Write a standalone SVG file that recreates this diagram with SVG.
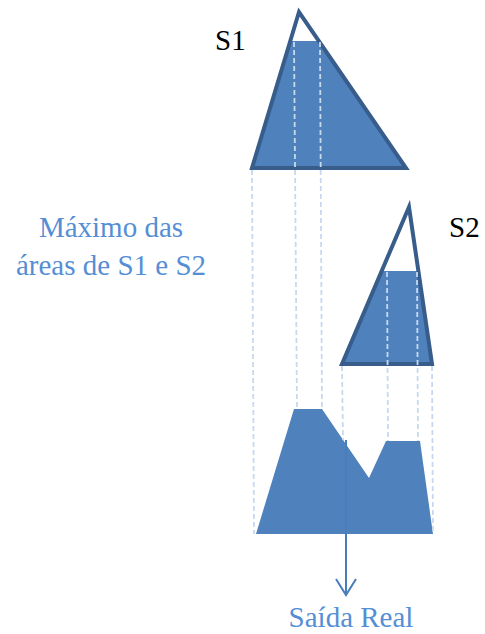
<svg xmlns="http://www.w3.org/2000/svg" width="485" height="634" viewBox="0 0 485 634">
<defs>
<style>
.fill{fill:#4F81BD;stroke:none}
.tri{fill:none;stroke:#385D8A;stroke-width:4;stroke-linejoin:miter}
.dash{stroke:#C6D9F1;stroke-width:1.8;stroke-dasharray:5 3;fill:none}
.lbl{font-family:'Times New Roman',Times,Tinos,'Liberation Serif','Noto Serif','DejaVu Serif',serif;font-size:29px}
.blue{fill:#558ED5}
.arrow{stroke:#4A7EBB;stroke-width:2;fill:none}
</style>
</defs>
<rect width="485" height="634" fill="#FFFFFF"/>
<g id="output">
<polygon class="fill" points="256,534 294,409 322,409 369,478 386,441 420,441 433,534"/>
</g>
<g id="s1">
<polygon class="fill" points="252,168 290,41 319,41 406,168"/>
<polygon class="tri" points="299,12 252,168 406,168"/>
<text class="lbl" x="215" y="50" fill="#000000">S1</text>
</g>
<g id="s2">
<polygon class="fill" points="342,364 382,271 418,271 432,364"/>
<polygon class="tri" points="409,207 342,364 432,364"/>
<text class="lbl" x="449" y="237" fill="#000000">S2</text>
</g>
<g id="connectors">
<line class="dash" x1="252" y1="170" x2="254" y2="534"/>
<line class="dash" x1="294" y1="42" x2="297" y2="409"/>
<line class="dash" x1="320" y1="42" x2="322" y2="409"/>
<line class="dash" x1="342" y1="366" x2="343" y2="440"/>
<line class="dash" x1="387" y1="272" x2="388" y2="441"/>
<line class="dash" x1="417" y1="272" x2="418" y2="441"/>
<line class="dash" x1="432" y1="366" x2="433" y2="534"/>
<line class="arrow" x1="346" y1="440" x2="346" y2="594"/>
<polyline class="arrow" points="336,579 346,595 356,579"/>
</g>
<g id="labels">
<text class="lbl blue" x="111" y="237" text-anchor="middle">Máximo das</text>
<text class="lbl blue" x="111" y="275" text-anchor="middle">áreas de S1 e S2</text>
<text class="lbl blue" x="351" y="627" text-anchor="middle">Saída Real</text>
</g>
</svg>
